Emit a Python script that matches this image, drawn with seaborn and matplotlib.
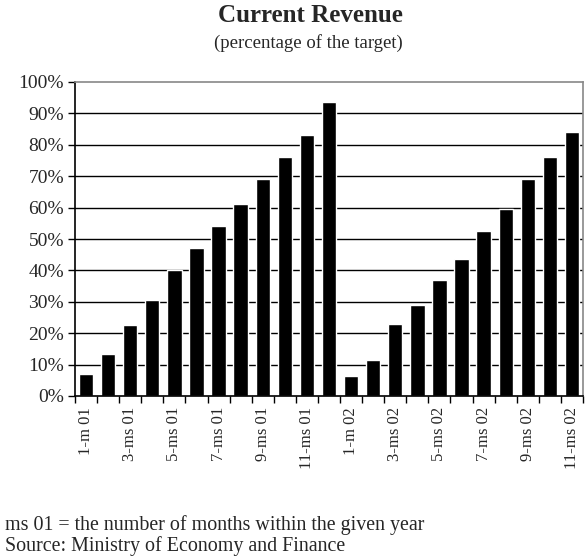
import matplotlib
matplotlib.use("Agg")
import matplotlib.pyplot as plt
import seaborn as sns
import numpy as np
import pandas as pd
from matplotlib.ticker import FixedLocator, PercentFormatter

sns.set_theme(style="white")
plt.rcParams['font.family'] = ['Liberation Serif', 'DejaVu Serif']

categories = [f"{m}-{'m' if m == 1 else 'ms'} {y}" for y in ["01"] for m in range(1, 13)] + \
             [f"{m}-{'m' if m == 1 else 'ms'} {y}" for y in ["02"] for m in range(1, 12)]
values_2001 = [7.0, 13.5, 22.5, 30.5, 40.0, 47.0, 54.0, 61.0, 69.0, 76.0, 83.0, 93.5]
values_2002 = [6.3, 11.6, 22.8, 29.0, 37.0, 43.5, 52.5, 59.5, 69.0, 76.0, 84.0]
values = values_2001 + values_2002
tick_labels = [c if i % 2 == 0 else "" for i, c in enumerate(categories)]

df = pd.DataFrame({"cat": categories, "val": values})

fig = plt.figure(figsize=(5.88, 5.57), dpi=100)
ax = fig.add_axes([75/588, 1 - 396/557, (583 - 75)/588, (396 - 82)/557])

sns.barplot(data=df, x="cat", y="val", color="black", width=0.65,
            saturation=1, ax=ax, order=categories)

ax.set_ylim(0, 100)
ax.set_xlim(-0.5, len(categories) - 0.5)
ax.set_yticks(np.arange(0, 101, 10))
ax.yaxis.set_major_formatter(PercentFormatter(decimals=0))
for y in range(10, 100, 10):
    ax.axhline(y, color="black", lw=1, zorder=0)

ax.set_xticks(range(len(categories)))
ax.set_xticklabels(tick_labels, rotation=90, fontsize=12)
ax.xaxis.set_minor_locator(FixedLocator(np.arange(-0.5, len(categories), 1)))
ax.tick_params(axis="x", which="major", length=0, pad=8)
ax.tick_params(axis="x", which="minor", length=5, width=1, color="black", direction="out", bottom=True)
ax.tick_params(axis="y", length=5, width=1, color="black", direction="out", left=True,
               labelsize=14, pad=3)
ax.set_xlabel("")
ax.set_ylabel("")

for side in ["left", "bottom"]:
    ax.spines[side].set_color("black")
    ax.spines[side].set_linewidth(1.2)
for side in ["top", "right"]:
    ax.spines[side].set_color("#888888")
    ax.spines[side].set_linewidth(1.2)

fig.text(310/588, 1 - 16/557, "Current Revenue", ha="center", va="center",
         fontsize=18, fontweight="bold")
fig.text(308/588, 1 - 43/557, "(percentage of the target)", ha="center", va="center",
         fontsize=13.5)
fig.text(5/588, 1 - 525/557, "ms 01 = the number of months within the given year",
         ha="left", va="center", fontsize=14.4)
fig.text(5/588, 1 - 546/557, "Source: Ministry of Economy and Finance",
         ha="left", va="center", fontsize=14.4)

fig.savefig("out.png", dpi=100)
